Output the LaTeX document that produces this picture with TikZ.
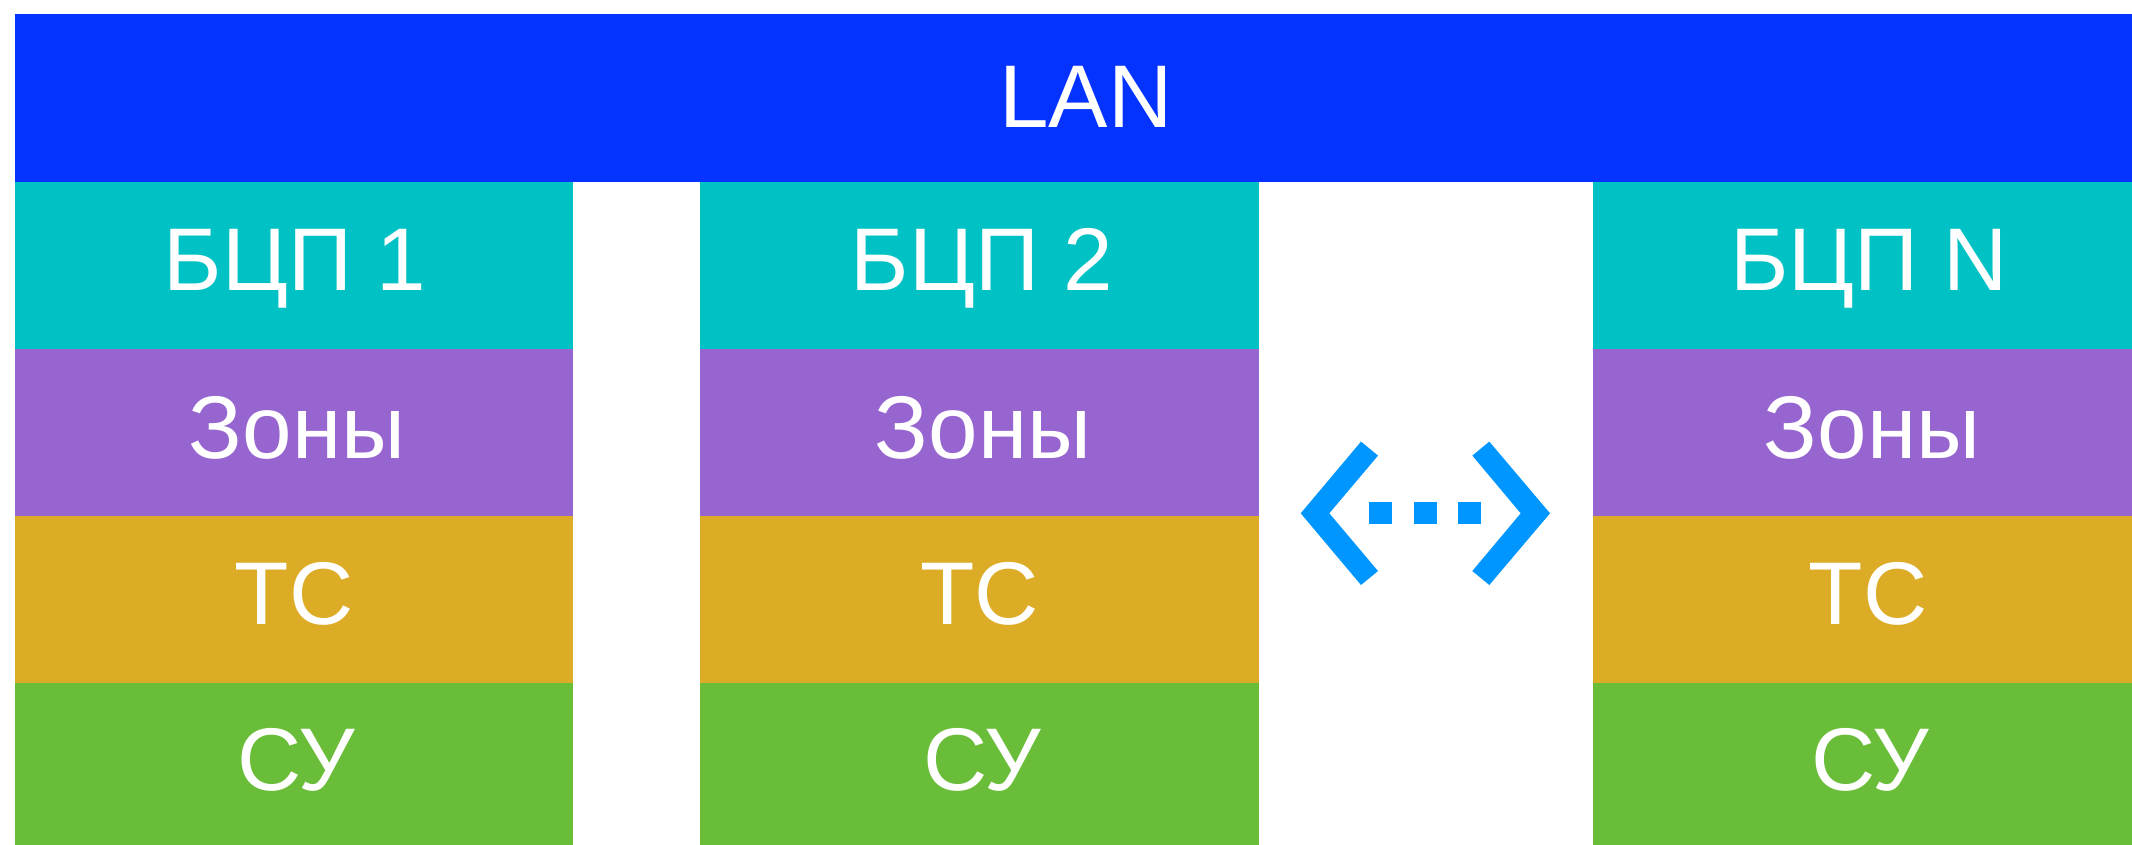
\documentclass[tikz,border=0pt]{standalone}
\usepackage{fontspec}
\setmainfont{Liberation Sans}
\definecolor{lanblue}{HTML}{0433FF}
\definecolor{bcpteal}{HTML}{00C1C4}
\definecolor{zonepurple}{HTML}{9765D0}
\definecolor{tsyellow}{HTML}{DDAC26}
\definecolor{sugreen}{HTML}{6ABD38}
\definecolor{iconblue}{HTML}{0096FF}
\tikzset{
  band/.style={rectangle,inner sep=0pt,outer sep=0pt,anchor=north west,minimum width=#1},
  rowbcp/.style={fill=bcpteal,minimum height=166.5pt},
  rowzone/.style={fill=zonepurple,minimum height=167.5pt},
  rowts/.style={fill=tsyellow,minimum height=167pt},
  rowsu/.style={fill=sugreen,minimum height=162pt},
  lbl/.style={text=white,anchor=base,inner sep=0pt,font=\fontsize{89}{89}\selectfont},
  icon/.style={fill=iconblue,draw=none}
}
\begin{document}
\begin{tikzpicture}[x=1pt,y=-1pt]
\useasboundingbox (0,0) rectangle (2132,845);
\fill[white] (0,0) rectangle (2132,845);
% columns
\node[band=558pt,rowbcp] (b1) at (15,182) {};
\node[band=558pt,rowzone] (z1) at (15,348.5) {};
\node[band=558pt,rowts] (t1) at (15,516) {};
\node[band=558pt,rowsu] (s1) at (15,683) {};
\node[band=558.5pt,rowbcp] (b2) at (700,182) {};
\node[band=558.5pt,rowzone] (z2) at (700,348.5) {};
\node[band=558.5pt,rowts] (t2) at (700,516) {};
\node[band=558.5pt,rowsu] (s2) at (700,683) {};
\node[band=539.5pt,rowbcp] (b3) at (1592.5,182) {};
\node[band=539.5pt,rowzone] (z3) at (1592.5,348.5) {};
\node[band=539.5pt,rowts] (t3) at (1592.5,516) {};
\node[band=539.5pt,rowsu] (s3) at (1592.5,683) {};
\node[band=2117pt,fill=lanblue,minimum height=168pt] (lan) at (15,14) {};
% labels
\node[lbl] (lanl) at (1086,127.5) {LAN};
\node[lbl] (bl1) at (295,290) {БЦП 1};
\node[lbl] (bl2) at (982,290) {БЦП 2};
\node[lbl] (bl3) at (1869,290) {БЦП N};
\node[lbl] (zl1) at (297,458) {Зоны};
\node[lbl] (zl2) at (983,458) {Зоны};
\node[lbl] (zl3) at (1872,458) {Зоны};
\node[lbl] (tl1) at (294,624) {ТС};
\node[lbl] (tl2) at (979.5,624) {ТС};
\node[lbl] (tl3) at (1868,624) {ТС};
\node[lbl] (sl1) at (296,790) {СУ};
\node[lbl] (sl2) at (982,790) {СУ};
\node[lbl] (sl3) at (1870,790) {СУ};
% icon
\fill[icon] (1300.7,513.3) -- (1361,441.6) -- (1378,455.6) -- (1329.3,513.3) -- (1378,571) -- (1361,585) -- cycle;
\fill[icon] (1550,513.3) -- (1489.3,441.6) -- (1472.3,455.6) -- (1520.7,513.3) -- (1472.3,571) -- (1489.3,585) -- cycle;
\fill[icon] (1369.3,502) rectangle (1392,524.3);
\fill[icon] (1413.7,502) rectangle (1436.7,524.3);
\fill[icon] (1458.3,502) rectangle (1481,524.3);
\end{tikzpicture}
\end{document}
